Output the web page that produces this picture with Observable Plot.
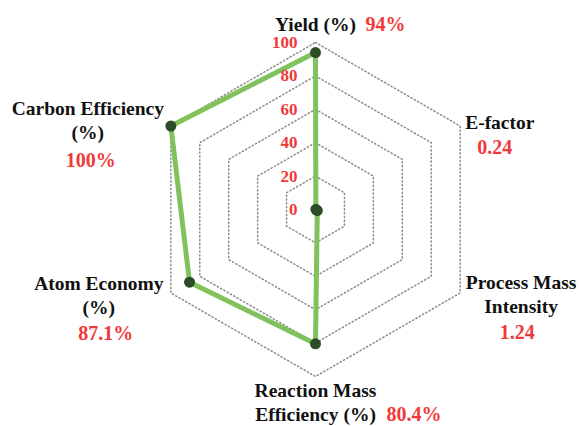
<!DOCTYPE html>
<html>
<head>
<meta charset="utf-8">
<script src="https://cdn.jsdelivr.net/npm/d3@7"></script>
<script src="https://cdn.jsdelivr.net/npm/@observablehq/plot@0.6"></script>
<style>
  html, body { margin: 0; padding: 0; background: #fff; }
  #chart svg { display: block; }
</style>
</head>
<body>
<div id="chart"></div>
<script>
// ---- data ----
const axisLabels = ["Yield (%)", "E-factor", "Process Mass\nIntensity", "Reaction Mass\nEfficiency (%)", "Atom Economy\n(%)", "Carbon Efficiency\n(%)"];
const seriesValues = [94, 0.24, 1.24, 80.4, 87.1, 100];
const valueLabels = ["94%", "0.24", "1.24", "80.4%", "87.1%", "100%"];
const tickValues = [0, 20, 40, 60, 80, 100];

// ---- layout (pixel offsets of the labels from each axis end) ----
const labelLayout = [
  {dx: 0, dy: -12, anchor: "middle", vdx: 50, vdy: -12, vanchor: "start"},
  {dx: 5, dy: 2.5, anchor: "start", vdx: 17, vdy: 27.5, vanchor: "start"},
  {dx: 61, dy: 19.5, anchor: "middle", vdx: 57, vdy: 45.5, vanchor: "middle"},
  {dx: 0, dy: 44, anchor: "middle", vdx: 71, vdy: 44, vanchor: "start"},
  {dx: -72, dy: 20.5, anchor: "middle", vdx: -65, vdy: 46.5, vanchor: "middle"},
  {dx: -83, dy: 12.5, anchor: "middle", vdx: -80, vdy: 40.5, vanchor: "middle"}
];

const W = 579, H = 426;
const cx = 315, cy = 209, pxPer = 1.67; // center & pixels per unit
const n = axisLabels.length;
const angle = i => (i * 2 * Math.PI) / n;
const pos = (i, v) => ({x: v * Math.sin(angle(i)), y: v * Math.cos(angle(i))});

// grid rings
const rings = [];
tickValues.filter(t => t > 0).forEach(t => {
  for (let i = 0; i <= n; i++) rings.push({ring: t, ...pos(i % n, t)});
});
// data polygon
const poly = [];
for (let i = 0; i <= n; i++) poly.push(pos(i % n, seriesValues[i % n]));
const pts = seriesValues.map((v, i) => pos(i, v));
const ends = axisLabels.map((l, i) => ({label: l, value: valueLabels[i], ...pos(i, 100), ...labelLayout[i]}));
const ticks = tickValues.map(t => ({t, x: 0, y: t}));

const font = "Liberation Serif";
const red = "#ef3a3a";

const marks = [
  Plot.line(rings, {x: "x", y: "y", z: "ring", stroke: "#8a8a8a", strokeWidth: 1.5, strokeDasharray: "1.2,2.6"}),
  Plot.line(poly, {x: "x", y: "y", stroke: "#80c35c", strokeWidth: 5, strokeLinejoin: "round"}),
  Plot.dot(pts, {x: "x", y: "y", r: 5.5, fill: "#2e4b27", stroke: "none"}),
  Plot.text(ticks, {x: "x", y: "y", text: d => String(d.t), dx: -18, textAnchor: "end", lineAnchor: "middle", fill: red, fontSize: 17, fontWeight: "bold", fontFamily: font})
];
ends.forEach(e => {
  marks.push(Plot.text([e], {x: "x", y: "y", text: "label", dx: e.dx, dy: e.dy, textAnchor: e.anchor, lineAnchor: "bottom", lineHeight: 1.2, fill: "#111", fontSize: 19.5, fontWeight: "bold", fontFamily: font}));
  marks.push(Plot.text([e], {x: "x", y: "y", text: "value", dx: e.vdx, dy: e.vdy, textAnchor: e.vanchor, lineAnchor: "bottom", fill: red, fontSize: 20, fontWeight: "bold", fontFamily: font}));
});

const chart = Plot.plot({
  width: W, height: H,
  margin: 0,
  style: {background: "#fff", overflow: "visible"},
  x: {domain: [-cx / pxPer, (W - cx) / pxPer], range: [0, W], axis: null},
  y: {domain: [-(H - cy) / pxPer, cy / pxPer], range: [H, 0], axis: null},
  marks
});
chart.setAttribute("font-family", font);
chart.style.fontFamily = "'Liberation Serif', serif";
chart.querySelectorAll("g[aria-label='text'], text").forEach(el => {
  el.setAttribute("font-family", font);
  el.style.fontFamily = "'Liberation Serif', serif";
});
document.getElementById("chart").appendChild(chart);
</script>
</body>
</html>
